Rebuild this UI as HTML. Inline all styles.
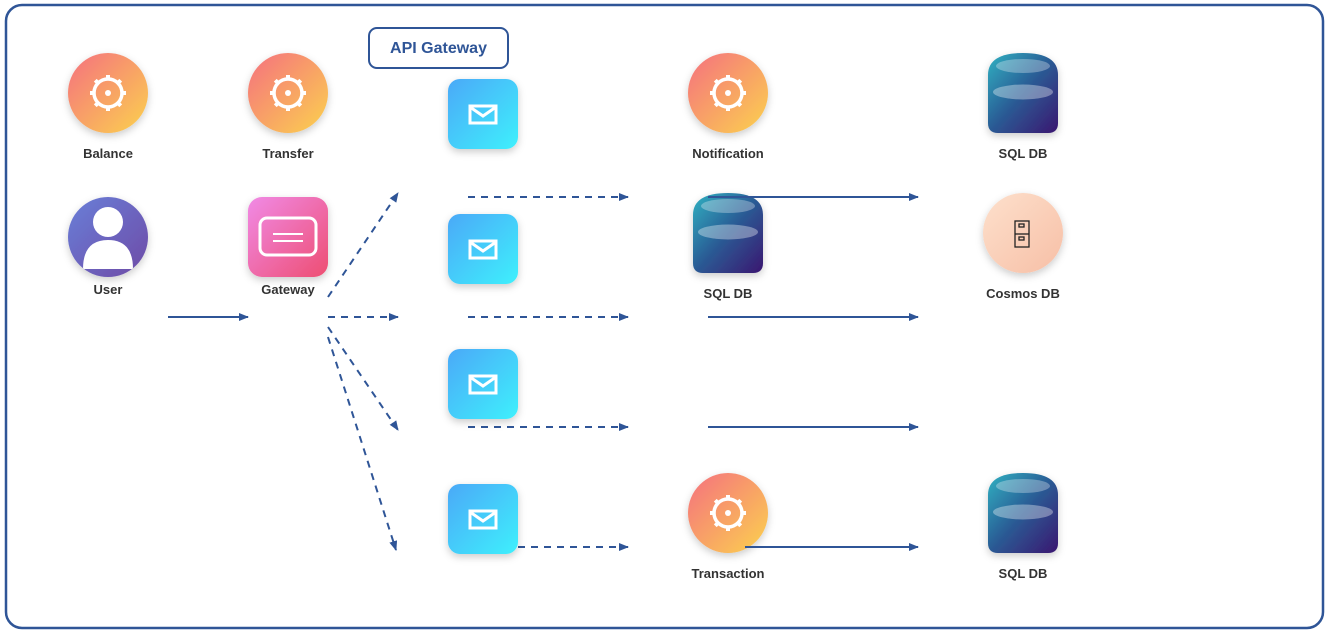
<!DOCTYPE html>
<html><head><style>
body{margin:0;background:#fff;font-family:"Liberation Sans",Arial,sans-serif;}
svg text{font-family:"Liberation Sans",Arial,sans-serif;font-weight:bold;font-size:13px;fill:#333;text-anchor:middle}
</style></head><body>
<svg width="1326" height="634" viewBox="0 0 1326 634" xmlns="http://www.w3.org/2000/svg">
<defs>
<linearGradient id="og" x1="0" y1="0" x2="1" y2="1"><stop offset="0" stop-color="#f5707f"/><stop offset="1" stop-color="#fbd24e"/></linearGradient>
<linearGradient id="pg" x1="0" y1="0" x2="1" y2="1"><stop offset="0" stop-color="#6a7fd8"/><stop offset="1" stop-color="#6e4aa6"/></linearGradient>
<linearGradient id="gg" x1="0" y1="0" x2="1" y2="1"><stop offset="0" stop-color="#f08ae6"/><stop offset="1" stop-color="#ee4e72"/></linearGradient>
<linearGradient id="bg" x1="0" y1="0" x2="1" y2="1"><stop offset="0" stop-color="#4aa9f8"/><stop offset="1" stop-color="#3ff0fc"/></linearGradient>
<linearGradient id="dg" x1="0" y1="0" x2="1" y2="1"><stop offset="0" stop-color="#2fb2c2"/><stop offset="0.5" stop-color="#2b5a94"/><stop offset="1" stop-color="#3a1670"/></linearGradient>
<linearGradient id="cg" x1="0" y1="0" x2="1" y2="1"><stop offset="0" stop-color="#fde0cc"/><stop offset="1" stop-color="#f7bfa6"/></linearGradient>
<filter id="sh" x="-30%" y="-30%" width="160%" height="160%"><feDropShadow dx="0" dy="3" stdDeviation="4" flood-opacity="0.2"/></filter>
<marker id="ah" markerWidth="10" markerHeight="8" refX="9" refY="4" orient="auto" markerUnits="userSpaceOnUse"><path d="M0,0 L10,4 L0,8 z" fill="#2f5597"/></marker>
<g id="gear"><circle r="14" fill="none" stroke="#fff" stroke-width="3.5"/><circle r="3" fill="#fff"/>
<g fill="#fff"><rect x="-2" y="-18" width="4" height="5"/><rect x="-2" y="13" width="4" height="5"/><rect x="-18" y="-2" width="5" height="4"/><rect x="13" y="-2" width="5" height="4"/>
<rect x="-2" y="-18" width="4" height="5" transform="rotate(45)"/><rect x="-2" y="-18" width="4" height="5" transform="rotate(135)"/><rect x="-2" y="-18" width="4" height="5" transform="rotate(225)"/><rect x="-2" y="-18" width="4" height="5" transform="rotate(315)"/></g></g>
<g id="mail"><rect x="0" y="0" width="70" height="70" rx="12" fill="url(#bg)" filter="url(#sh)"/><rect x="22" y="27" width="26" height="17" fill="none" stroke="#fff" stroke-width="3"/><path d="M22,28 L35,37 L48,28" fill="none" stroke="#fff" stroke-width="3"/></g>
<g id="db"><path d="M0,22 Q0,0 35,0 Q70,0 70,22 L70,70 Q70,80 60,80 L10,80 Q0,80 0,70 Z" fill="url(#dg)" filter="url(#sh)"/><ellipse cx="35" cy="13" rx="27" ry="7" fill="#fff" opacity="0.3"/><ellipse cx="35" cy="39" rx="30" ry="7.5" fill="#fff" opacity="0.35"/></g>
</defs>
<rect x="6" y="5" width="1317" height="623" rx="16" fill="none" stroke="#2f5597" stroke-width="2.5"/>
<rect x="369" y="28" width="139" height="40" rx="8" fill="#fff" stroke="#2f5597" stroke-width="2"/>
<text x="438.5" y="53" style="font-size:16px;fill:#2f5597">API Gateway</text>

<g stroke="#2f5597" stroke-width="2" fill="none">
<line x1="168" y1="317" x2="248" y2="317" marker-end="url(#ah)"/>
<g stroke-dasharray="7,6">
<line x1="328" y1="297" x2="398" y2="193" marker-end="url(#ah)"/>
<line x1="328" y1="317" x2="398" y2="317" marker-end="url(#ah)"/>
<line x1="328" y1="327" x2="398" y2="430" marker-end="url(#ah)"/>
<line x1="328" y1="337" x2="396" y2="550" marker-end="url(#ah)"/>
<line x1="468" y1="197" x2="628" y2="197" marker-end="url(#ah)"/>
<line x1="468" y1="317" x2="628" y2="317" marker-end="url(#ah)"/>
<line x1="468" y1="427" x2="628" y2="427" marker-end="url(#ah)"/>
<line x1="518" y1="547" x2="628" y2="547" marker-end="url(#ah)"/>
</g>
<line x1="708" y1="317" x2="918" y2="317" marker-end="url(#ah)"/>
<line x1="708" y1="427" x2="918" y2="427" marker-end="url(#ah)"/>
</g>

<circle cx="108" cy="93" r="40" fill="url(#og)" filter="url(#sh)"/><use href="#gear" x="108" y="93"/>
<text x="108" y="158">Balance</text>
<circle cx="288" cy="93" r="40" fill="url(#og)" filter="url(#sh)"/><use href="#gear" x="288" y="93"/>
<text x="288" y="158">Transfer</text>
<circle cx="728" cy="93" r="40" fill="url(#og)" filter="url(#sh)"/><use href="#gear" x="728" y="93"/>
<text x="728" y="158">Notification</text>

<clipPath id="uc"><circle cx="108" cy="237" r="40"/></clipPath>
<circle cx="108" cy="237" r="40" fill="url(#pg)" filter="url(#sh)"/>
<g clip-path="url(#uc)" fill="#fff"><circle cx="108" cy="222" r="15"/><path d="M83,269 Q83,240 108,240 Q133,240 133,269 Z"/></g>
<text x="108" y="294">User</text>

<rect x="248" y="197" width="80" height="80" rx="14" fill="url(#gg)" filter="url(#sh)"/>
<rect x="260" y="218" width="56" height="37" rx="7" fill="none" stroke="#fff" stroke-width="3"/>
<line x1="273" y1="234" x2="303" y2="234" stroke="#fff" stroke-width="2"/><line x1="273" y1="241" x2="303" y2="241" stroke="#fff" stroke-width="2"/>
<text x="288" y="294">Gateway</text>

<use href="#mail" x="448" y="79"/><use href="#mail" x="448" y="214"/><use href="#mail" x="448" y="349"/><use href="#mail" x="448" y="484"/>

<use href="#db" x="988" y="53"/><text x="1023" y="158">SQL DB</text>
<use href="#db" x="693" y="193"/><text x="728" y="298">SQL DB</text>
<use href="#db" x="988" y="473"/><text x="1023" y="578">SQL DB</text>

<line x1="708" y1="197" x2="918" y2="197" stroke="#2f5597" stroke-width="2" marker-end="url(#ah)"/>

<circle cx="1023" cy="233" r="40" fill="url(#cg)" filter="url(#sh)"/>
<g fill="none" stroke="#222" stroke-width="1.3"><rect x="1015" y="221" width="14" height="26"/><line x1="1015" y1="234" x2="1029" y2="234"/><rect x="1019" y="224" width="5" height="3"/><rect x="1019" y="237" width="5" height="3"/></g>
<text x="1023" y="298">Cosmos DB</text>

<circle cx="728" cy="513" r="40" fill="url(#og)" filter="url(#sh)"/><use href="#gear" x="728" y="513"/>
<line x1="745" y1="547" x2="918" y2="547" stroke="#2f5597" stroke-width="2" marker-end="url(#ah)"/>
<text x="728" y="578">Transaction</text>
</svg>
</body></html>
